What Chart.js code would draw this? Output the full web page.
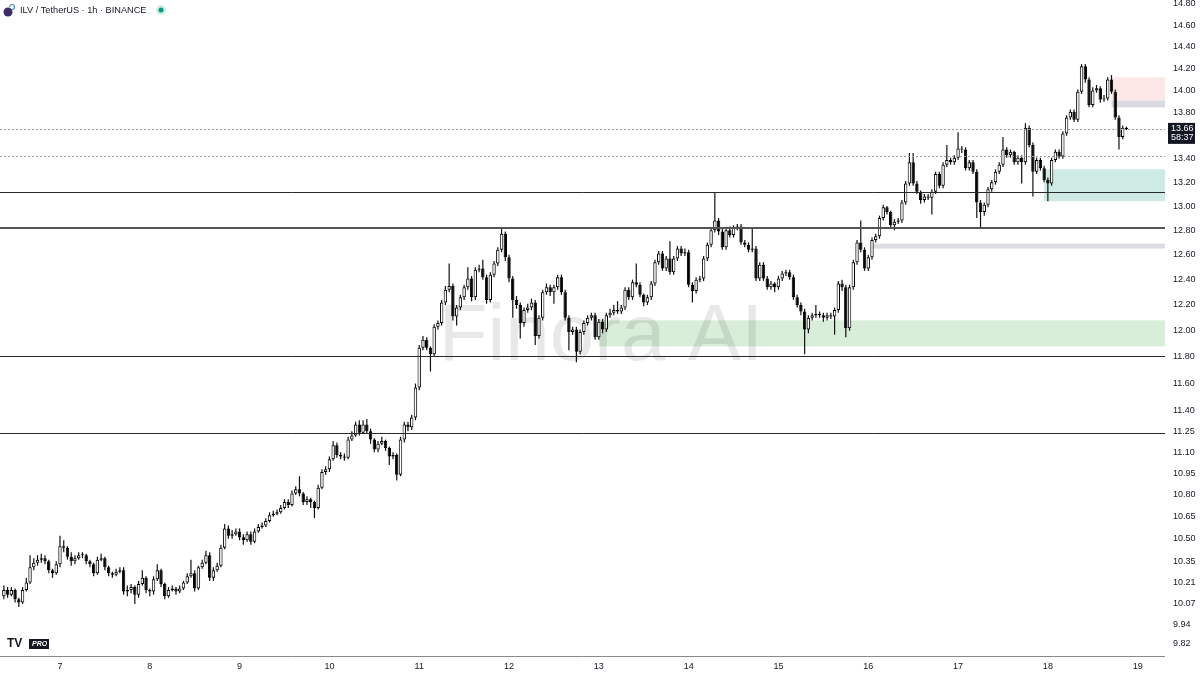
<!DOCTYPE html>
<html>
<head>
<meta charset="utf-8">
<title>ILV / TetherUS 1h</title>
<script src="https://cdn.jsdelivr.net/npm/chart.js@4.4.1/dist/chart.umd.min.js"></script>
<style>
	html, body{margin:0;padding:0;background:#fff;}
	#wrap{position:relative;width:1200px;height:675px;}
</style>
</head>
<body>
<div id="wrap"><canvas id="chart" width="1200" height="675"></canvas></div>
<script>
// hours counted from day 7 00:00, one candle per hour
var firstHour = -15;
var firstOpen = 10.12;
var closes = [
	10.16, 10.13, 10.16, 10.10, 10.08, 10.16, 10.21, 10.31, 10.34, 10.36, 10.37, 10.35, 10.29, 10.27, 10.33,
	10.45, 10.44, 10.38, 10.35, 10.37, 10.39, 10.39, 10.35, 10.33, 10.27, 10.36, 10.37, 10.31, 10.27, 10.26, 10.28, 10.29, 10.15, 10.16, 10.18, 10.13, 10.20, 10.24, 10.16,
	10.15, 10.23, 10.29, 10.20, 10.12, 10.16, 10.17, 10.15, 10.17, 10.21, 10.25, 10.27, 10.17, 10.31, 10.34, 10.39, 10.24, 10.29, 10.32, 10.44, 10.57, 10.52, 10.53, 10.55,
	10.51, 10.49, 10.53, 10.48, 10.55, 10.58, 10.59, 10.62, 10.66, 10.67, 10.68, 10.71, 10.75, 10.73, 10.81, 10.84, 10.81, 10.75, 10.77, 10.75, 10.71, 10.85, 10.96, 10.98,
	11.05, 11.15, 11.08, 11.07, 11.06, 11.19, 11.22, 11.30, 11.24, 11.30, 11.25, 11.19, 11.12, 11.16, 11.18, 11.13, 11.07, 11.08, 10.94, 11.19, 11.30, 11.28, 11.35, 11.57,
	11.87, 11.93, 11.87, 11.82, 12.03, 12.06, 12.22, 12.32, 12.35, 12.11, 12.18, 12.26, 12.34, 12.41, 12.26, 12.48, 12.49, 12.42, 12.24, 12.44, 12.53, 12.64, 12.77, 12.58,
	12.41, 12.24, 12.20, 12.06, 12.16, 12.18, 12.22, 11.96, 12.10, 12.30, 12.34, 12.30, 12.34, 12.42, 12.30, 12.10, 11.99, 12.01, 11.84, 11.99, 12.06, 12.10, 12.12, 11.95,
	12.07, 12.01, 12.12, 12.14, 12.16, 12.15, 12.18, 12.32, 12.26, 12.38, 12.36, 12.28, 12.22, 12.26, 12.37, 12.54, 12.61, 12.49, 12.57, 12.46, 12.57, 12.65, 12.61, 12.62,
	12.36, 12.31, 12.40, 12.41, 12.57, 12.68, 12.80, 12.88, 12.79, 12.66, 12.80, 12.76, 12.82, 12.83, 12.70, 12.68, 12.64, 12.65, 12.41, 12.52, 12.41, 12.34, 12.37, 12.34,
	12.41, 12.45, 12.46, 12.42, 12.26, 12.20, 12.15, 12.01, 12.10, 12.12, 12.13, 12.12, 12.10, 12.12, 12.11, 12.16, 12.37, 12.34, 12.02, 12.34, 12.54, 12.70, 12.64, 12.49,
	12.58, 12.72, 12.75, 12.90, 12.99, 12.95, 12.84, 12.87, 12.88, 13.03, 13.19, 13.37, 13.19, 13.12, 13.05, 13.08, 13.07, 13.12, 13.27, 13.17, 13.35, 13.39, 13.37, 13.41,
	13.49, 13.48, 13.32, 13.37, 13.29, 13.03, 12.95, 13.01, 13.14, 13.20, 13.29, 13.35, 13.48, 13.43, 13.46, 13.37, 13.41, 13.37, 13.67, 13.52, 13.29, 13.39, 13.32, 13.22,
	13.19, 13.39, 13.46, 13.42, 13.62, 13.76, 13.81, 13.74, 13.99, 14.22, 14.10, 13.87, 14.00, 14.02, 13.92, 13.93, 14.10, 13.99, 13.76, 13.59, 13.67, 13.66
];
var highs = [
	10.19, 10.18, 10.18, 10.17, 10.11, 10.18, 10.24, 10.39, 10.37, 10.39, 10.40, 10.39, 10.36, 10.30, 10.35,
	10.52, 10.49, 10.45, 10.41, 10.39, 10.41, 10.41, 10.40, 10.36, 10.34, 10.38, 10.40, 10.38, 10.32, 10.28, 10.30, 10.31, 10.31, 10.19, 10.20, 10.19, 10.22, 10.29, 10.25,
	10.17, 10.25, 10.33, 10.30, 10.21, 10.18, 10.19, 10.18, 10.19, 10.22, 10.27, 10.36, 10.29, 10.32, 10.36, 10.42, 10.41, 10.31, 10.34, 10.46, 10.60, 10.59, 10.56, 10.57,
	10.57, 10.53, 10.55, 10.55, 10.57, 10.60, 10.61, 10.64, 10.68, 10.69, 10.70, 10.73, 10.77, 10.77, 10.83, 10.86, 10.93, 10.82, 10.79, 10.78, 10.76, 10.87, 10.98, 11.00,
	11.07, 11.18, 11.17, 11.10, 11.09, 11.21, 11.25, 11.32, 11.33, 11.33, 11.34, 11.27, 11.20, 11.18, 11.21, 11.19, 11.14, 11.10, 11.09, 11.21, 11.32, 11.32, 11.37, 11.60,
	11.89, 11.96, 11.95, 11.88, 12.05, 12.08, 12.24, 12.35, 12.53, 12.37, 12.20, 12.28, 12.36, 12.50, 12.43, 12.50, 12.52, 12.56, 12.44, 12.46, 12.55, 12.66, 12.82, 12.79,
	12.60, 12.43, 12.27, 12.22, 12.18, 12.21, 12.25, 12.24, 12.12, 12.32, 12.37, 12.36, 12.36, 12.44, 12.44, 12.32, 12.12, 12.03, 12.03, 12.01, 12.08, 12.12, 12.14, 12.14,
	12.09, 12.09, 12.14, 12.17, 12.20, 12.23, 12.20, 12.34, 12.34, 12.40, 12.53, 12.38, 12.29, 12.28, 12.39, 12.56, 12.63, 12.63, 12.59, 12.71, 12.59, 12.67, 12.67, 12.65,
	12.64, 12.38, 12.42, 12.43, 12.59, 12.70, 12.82, 13.11, 12.90, 12.81, 12.82, 12.83, 12.84, 12.85, 12.85, 12.72, 12.70, 12.82, 12.67, 12.54, 12.54, 12.43, 12.39, 12.38,
	12.43, 12.47, 12.48, 12.48, 12.44, 12.28, 12.22, 12.17, 12.12, 12.14, 12.20, 12.15, 12.14, 12.14, 12.14, 12.18, 12.39, 12.40, 12.36, 12.36, 12.56, 12.72, 12.88, 12.66,
	12.60, 12.74, 12.77, 12.92, 13.01, 13.00, 12.96, 12.89, 12.90, 13.05, 13.21, 13.45, 13.45, 13.21, 13.13, 13.10, 13.10, 13.14, 13.29, 13.29, 13.37, 13.52, 13.41, 13.43,
	13.63, 13.51, 13.50, 13.39, 13.39, 13.31, 13.05, 13.03, 13.16, 13.22, 13.31, 13.37, 13.59, 13.50, 13.48, 13.47, 13.43, 13.43, 13.71, 13.69, 13.54, 13.41, 13.41, 13.34,
	13.24, 13.41, 13.48, 13.48, 13.64, 13.78, 13.83, 13.83, 14.01, 14.24, 14.24, 14.12, 14.03, 14.05, 14.04, 13.96, 14.12, 14.14, 14.01, 13.78, 13.69, 13.68
];
var lows = [
	10.10, 10.11, 10.12, 10.08, 10.05, 10.07, 10.15, 10.20, 10.29, 10.32, 10.34, 10.33, 10.27, 10.24, 10.26,
	10.31, 10.41, 10.36, 10.32, 10.33, 10.36, 10.37, 10.33, 10.31, 10.25, 10.26, 10.35, 10.29, 10.25, 10.24, 10.25, 10.27, 10.13, 10.12, 10.14, 10.07, 10.11, 10.19, 10.14,
	10.12, 10.13, 10.22, 10.18, 10.10, 10.11, 10.15, 10.13, 10.14, 10.16, 10.20, 10.24, 10.15, 10.16, 10.30, 10.33, 10.22, 10.22, 10.28, 10.31, 10.43, 10.50, 10.50, 10.52,
	10.49, 10.46, 10.48, 10.46, 10.47, 10.54, 10.57, 10.58, 10.61, 10.65, 10.66, 10.67, 10.70, 10.71, 10.72, 10.80, 10.79, 10.73, 10.73, 10.71, 10.64, 10.70, 10.84, 10.94,
	10.96, 11.04, 11.06, 11.05, 11.04, 11.05, 11.18, 11.21, 11.22, 11.23, 11.23, 11.16, 11.10, 11.10, 11.15, 11.11, 11.01, 11.05, 10.90, 10.93, 11.17, 11.25, 11.26, 11.33,
	11.55, 11.85, 11.85, 11.69, 11.80, 12.01, 12.04, 12.20, 12.30, 12.08, 12.04, 12.16, 12.24, 12.32, 12.23, 12.24, 12.46, 12.40, 12.21, 12.22, 12.42, 12.51, 12.62, 12.55,
	12.38, 12.10, 12.17, 11.94, 12.03, 12.14, 12.16, 11.89, 11.94, 12.08, 12.28, 12.27, 12.21, 12.32, 12.28, 12.08, 11.85, 11.97, 11.76, 11.82, 11.97, 12.04, 12.08, 11.93,
	11.93, 11.98, 11.99, 12.10, 12.12, 12.13, 12.13, 12.16, 12.24, 12.24, 12.34, 12.26, 12.19, 12.20, 12.24, 12.35, 12.52, 12.47, 12.47, 12.44, 12.44, 12.55, 12.59, 12.59,
	12.34, 12.22, 12.29, 12.38, 12.39, 12.55, 12.66, 12.78, 12.76, 12.64, 12.64, 12.74, 12.74, 12.80, 12.68, 12.66, 12.62, 12.62, 12.39, 12.39, 12.39, 12.32, 12.32, 12.30,
	12.32, 12.39, 12.43, 12.40, 12.24, 12.18, 12.12, 11.82, 11.98, 12.08, 12.10, 12.10, 12.07, 12.08, 12.09, 11.97, 12.14, 12.31, 11.95, 12.00, 12.32, 12.52, 12.62, 12.47,
	12.47, 12.56, 12.70, 12.73, 12.88, 12.93, 12.82, 12.80, 12.85, 12.86, 13.01, 13.17, 13.17, 13.10, 13.02, 13.03, 13.05, 12.93, 13.10, 13.15, 13.15, 13.33, 13.35, 13.35,
	13.39, 13.45, 13.30, 13.30, 13.27, 12.90, 12.82, 12.92, 12.99, 13.12, 13.18, 13.27, 13.33, 13.41, 13.41, 13.35, 13.35, 13.19, 13.35, 13.50, 13.08, 13.27, 13.30, 13.20,
	13.04, 13.17, 13.37, 13.40, 13.40, 13.60, 13.74, 13.72, 13.72, 13.97, 14.07, 13.85, 13.85, 13.98, 13.89, 13.90, 13.91, 13.97, 13.74, 13.48, 13.57, 13.65
];
var dayLabels = ['7', '8', '9', '10', '11', '12', '13', '14', '15', '16', '17', '18', '19'];
var priceTicks = [14.80, 14.60, 14.40, 14.20, 14.00, 13.80, 13.40, 13.20, 13.00, 12.80, 12.60, 12.40, 12.20, 12.00,
	11.80, 11.60, 11.40, 11.25, 11.10, 10.95, 10.80, 10.65, 10.50, 10.35, 10.21, 10.07, 9.94, 9.82];
var lastPrice = 13.66;
var countdown = '58:37';
// horizontal levels drawn on the chart
var levels = [13.12, 12.82, 11.81, 11.24];
var dottedLevels = [13.66, 13.42];
// zones: starting hour, top price, bottom price
var zoneFrom = [281, 281, 263, 217, 144];
var zoneTop = [14.12, 13.91, 13.31, 12.69, 12.08];
var zoneBottom = [13.91, 13.85, 13.04, 12.65, 11.88];

var bodies = [], wicks = [], bodyColors = [];
for (var i = 0; i < closes.length; i++) {
	var o = i == 0 ? firstOpen : closes[i - 1], c = closes[i];
	bodies.push({x: firstHour + i, y: [o, c]});
	wicks.push({x: firstHour + i, y: [lows[i], highs[i]]});
	bodyColors.push(c >= o ? '#ffffff' : '#000000');
}

var zoneColors = ['#fde6e6', '#d9d9e1', '#cdebe3', '#dcdce3', '#d8eed9'];
var levelWidths = [1, 2, 1, 1];
var axisFont = '"Liberation Sans", Arial, sans-serif';

var overlay = {
	id: 'overlay',
	beforeDatasetsDraw: function(chart){
		var ctx = chart.ctx, a = chart.chartArea, xs = chart.scales.x, ys = chart.scales.y;
		ctx.save();
		for (var i = 0; i < zoneFrom.length; i++) {
			var x0 = xs.getPixelForValue(zoneFrom[i]), y0 = ys.getPixelForValue(zoneTop[i]), y1 = ys.getPixelForValue(zoneBottom[i]);
			ctx.fillStyle = zoneColors[i];
			ctx.fillRect(x0, y0, a.right - x0, y1 - y0);
		}
		//watermark
		ctx.fillStyle = 'rgba(0,0,0,0.09)';
		ctx.font = '80px ' + axisFont;
		ctx.textAlign = 'center';
		ctx.textBaseline = 'middle';
		ctx.fillText('Finora AI', 601, 338);
		ctx.restore();
	},
	afterDatasetsDraw: function(chart){
		var ctx = chart.ctx, a = chart.chartArea, ys = chart.scales.y;
		ctx.save();
		ctx.setLineDash([2, 2]);
		ctx.strokeStyle = '#9a9ca3';
		ctx.lineWidth = 1;
		for (var i = 0; i < dottedLevels.length; i++) {
			var y = Math.round(ys.getPixelForValue(dottedLevels[i])) + 0.5;
			ctx.beginPath(); ctx.moveTo(a.left, y); ctx.lineTo(a.right, y); ctx.stroke();
		}
		ctx.setLineDash([]);
		for (var j = 0; j < levels.length; j++) {
			var yy = ys.getPixelForValue(levels[j]);
			ctx.strokeStyle = levelWidths[j] > 1 ? '#555555' : '#2a2a2a';
			ctx.lineWidth = levelWidths[j];
			yy = levelWidths[j] > 1 ? Math.round(yy) : Math.round(yy) + 0.5;
			ctx.beginPath(); ctx.moveTo(a.left, yy); ctx.lineTo(a.right, yy); ctx.stroke();
		}
		// bottom axis line
		ctx.strokeStyle = '#8a8a8a';
		ctx.lineWidth = 1;
		ctx.beginPath(); ctx.moveTo(a.left, a.bottom + 0.5); ctx.lineTo(a.right, a.bottom + 0.5); ctx.stroke();
		ctx.restore();
	},
	afterDraw: function(chart){
		var ctx = chart.ctx, a = chart.chartArea, ys = chart.scales.y;
		ctx.save();
		// last price label
		var py = ys.getPixelForValue(lastPrice);
		ctx.fillStyle = '#131722';
		ctx.fillRect(a.right + 3, py - 6, 27, 21);
		ctx.fillStyle = '#ffffff';
		ctx.font = '9px ' + axisFont;
		ctx.textAlign = 'left';
		ctx.textBaseline = 'middle';
		ctx.fillText(lastPrice.toFixed(2), a.right + 6, py);
		ctx.fillText(countdown, a.right + 6, py + 9);
		// title
		ctx.fillStyle = '#3d2b6b';
		ctx.beginPath(); ctx.arc(8, 12, 4.5, 0, Math.PI * 2); ctx.fill();
		ctx.strokeStyle = '#4a90c0';
		ctx.lineWidth = 1.2;
		ctx.beginPath(); ctx.arc(12, 7, 2.5, Math.PI, Math.PI * 2.5); ctx.stroke();
		var title = 'ILV / TetherUS \u00b7 1h \u00b7 BINANCE';
		ctx.font = '11px ' + axisFont;
		var size = Math.min(11, 11 * 126 / ctx.measureText(title).width);
		ctx.font = size.toFixed(1) + 'px ' + axisFont;
		ctx.fillStyle = '#131722';
		ctx.fillText(title, 20, 10);
		ctx.fillStyle = 'rgba(8,153,129,0.18)';
		ctx.beginPath(); ctx.arc(161, 10, 5, 0, Math.PI * 2); ctx.fill();
		ctx.fillStyle = '#089981';
		ctx.beginPath(); ctx.arc(161, 10, 2.5, 0, Math.PI * 2); ctx.fill();
		// logo
		ctx.fillStyle = '#131722';
		ctx.font = 'bold 12px ' + axisFont;
		ctx.fillText('TV', 7, 644);
		ctx.fillRect(29, 639, 20, 10);
		ctx.fillStyle = '#ffffff';
		ctx.font = 'bold italic 7px ' + axisFont;
		ctx.fillText('PRO', 32, 644);
		ctx.restore();
	}
};

var ctx = document.getElementById('chart').getContext('2d');
var chart = new Chart(ctx, {
	type: 'bar',
	data: {
		datasets: [{
			data: bodies,
			backgroundColor: bodyColors,
			borderColor: '#000000',
			borderWidth: 1,
			borderSkipped: false,
			barThickness: 3.4,
			minBarLength: 1,
			grouped: false,
			inflateAmount: 0,
			order: 0
		}, {
			data: wicks,
			backgroundColor: '#111111',
			borderWidth: 0,
			barThickness: 1.2,
			grouped: false,
			inflateAmount: 0,
			order: 1
		}]
	},
	options: {
		responsive: false,
		animation: false,
		layout: {padding: 0},
		plugins: {legend: {display: false}, tooltip: {enabled: false}},
		scales: {
			x: {
				type: 'linear',
				bounds: 'data',
				min: -16.03,
				max: 295.3,
				offset: false,
				grid: {display: false, drawTicks: false},
				border: {display: false},
				afterBuildTicks: function(scale){
					scale.ticks = dayLabels.map(function(d, k){ return {value: k * 24}; });
				},
				afterFit: function(scale){
					scale.height = 19;
					scale.paddingLeft = 0;
					scale.paddingRight = 0;
				},
				ticks: {
					autoSkip: false,
					maxRotation: 0,
					padding: 5,
					color: '#131722',
					font: {size: 9, family: axisFont},
					callback: function(v){ return dayLabels[Math.round(v / 24)]; }
				}
			},
			y: {
				type: 'logarithmic',
				bounds: 'data',
				position: 'right',
				min: 9.739,
				max: 14.838,
				grid: {display: false, drawTicks: false},
				border: {display: false},
				afterBuildTicks: function(scale){
					scale.ticks = priceTicks.map(function(v){ return {value: v}; });
				},
				afterFit: function(scale){
					scale.width = 35;
					scale.paddingTop = 0;
					scale.paddingBottom = 0;
				},
				ticks: {
					autoSkip: false,
					padding: 8,
					color: '#131722',
					font: {size: 9, family: axisFont},
					callback: function(v){ return Number(v).toFixed(2); }
				}
			}
		}
	},
	plugins: [overlay]
});
</script>
</body>
</html>
